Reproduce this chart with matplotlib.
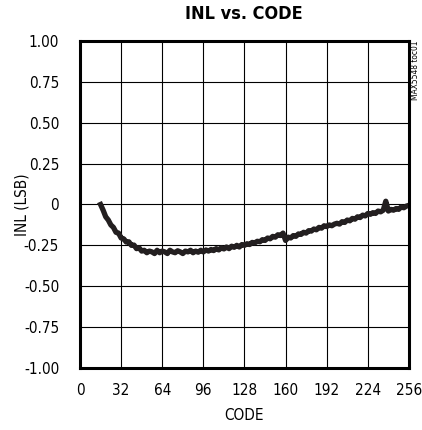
import numpy as np
import matplotlib
matplotlib.use("Agg")
import matplotlib.pyplot as plt

plt.rcParams['font.family'] = ['DejaVu Sans']
plt.rcParams['font.stretch'] = 'condensed'

# INL values, one every 2 codes from code 16 to 256
codes = np.arange(16, 257, 2)
inl = [
    0.00, -0.035, -0.075, -0.095, -0.125, -0.14, -0.17, -0.175, -0.205,
    -0.21, -0.23, -0.228, -0.25, -0.248, -0.27, -0.265, -0.285,
    -0.28, -0.295, -0.285, -0.29, -0.30, -0.28, -0.295, -0.285, -0.29,
    -0.30, -0.28, -0.29, -0.295, -0.283, -0.29, -0.30, -0.285, -0.29,
    -0.28, -0.295, -0.285, -0.292, -0.28, -0.29,
    -0.278, -0.285, -0.275, -0.282, -0.27, -0.278, -0.265, -0.272,
    -0.26, -0.27, -0.255, -0.262, -0.25, -0.26, -0.245, -0.25,
    -0.24, -0.245, -0.232, -0.235, -0.225, -0.228, -0.215, -0.22,
    -0.205, -0.21, -0.195, -0.2, -0.185, -0.19, -0.175,
    -0.22, -0.2, -0.205, -0.19, -0.195, -0.18, -0.183, -0.17, -0.175,
    -0.16, -0.163, -0.15, -0.155, -0.14, -0.145, -0.13, -0.135,
    -0.125, -0.13, -0.12, -0.115, -0.12, -0.105, -0.11, -0.095, -0.1,
    -0.085, -0.09, -0.075, -0.08, -0.065, -0.07, -0.055, -0.06, -0.05,
    -0.055, -0.04, -0.045, -0.035, 0.02, -0.04, -0.03, -0.035, -0.025,
    -0.03, -0.015, -0.02, -0.01, -0.005,
]

xticks = [0, 32, 64, 96, 128, 160, 192, 224, 256]
yticks = [1.0, 0.75, 0.5, 0.25, 0.0, -0.25, -0.5, -0.75, -1.0]
ytick_labels = ['1.00', '0.75', '0.50', '0.25', '0', '-0.25', '-0.50', '-0.75', '-1.00']

fig = plt.figure(figsize=(4.22, 4.30), dpi=100)
ax = fig.add_axes([0.1896, 0.1442, 0.7794, 0.7605])

ax.plot(codes, inl, color='#231f20', lw=3.8, solid_joinstyle='round')

ax.set_xlim(0, 256)
ax.set_ylim(-1, 1)
ax.set_xticks(xticks)
ax.set_yticks(yticks)
ax.set_yticklabels(ytick_labels)
ax.tick_params(length=0, labelsize=11, pad=11)
ax.tick_params(axis='y', pad=15)
ax.grid(True, color='black', lw=0.8)
for s in ax.spines.values():
    s.set_linewidth(2.2)

ax.set_xlabel('CODE', fontsize=11, va='center')
ax.xaxis.set_label_coords(0.5, -0.144)
ax.set_ylabel('INL (LSB)', fontsize=11, va='center')
ax.yaxis.set_label_coords(-0.176, 0.5)
fig.text(0.579, 0.967, 'INL vs. CODE', ha='center', va='center',
         fontsize=13, fontweight='heavy')
fig.text(0.985, 0.905, 'MAX5548 toc01', rotation=90, ha='center', va='top',
         fontsize=6)

fig.savefig('out.png', dpi=100)
